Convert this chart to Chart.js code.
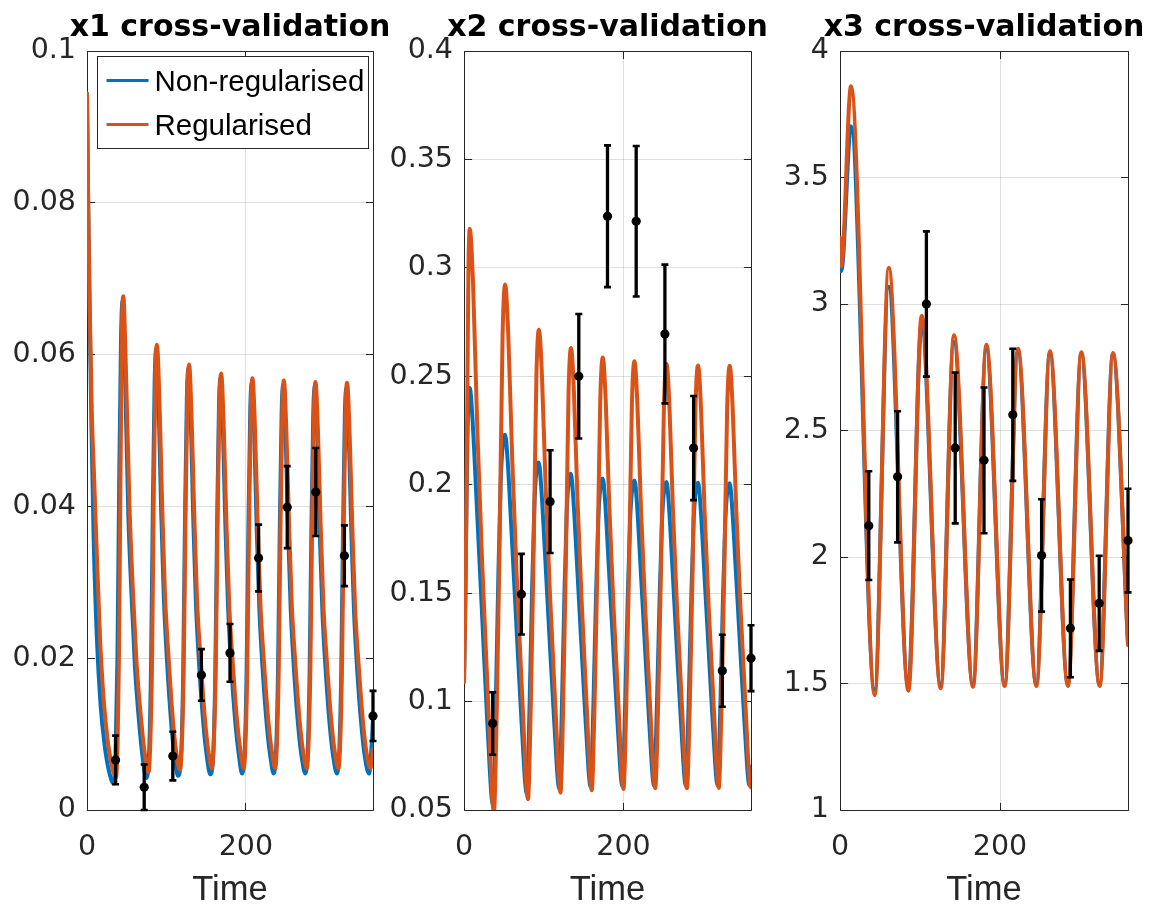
<!DOCTYPE html>
<html>
<head>
<meta charset="utf-8">
<title>Cross-validation</title>
<script src="https://cdn.jsdelivr.net/npm/chart.js@4"></script>
<style>
  html, body { margin: 0; padding: 0; background: #ffffff; }
  #wrap { position: relative; width: 1157px; height: 911px; overflow: hidden; background: #ffffff; }
  #wrap canvas { position: absolute; top: 0; }
</style>
</head>
<body>
<div id="wrap">
  <canvas id="panel1" width="400" height="911" style="left:0px"></canvas>
  <canvas id="panel2" width="400" height="911" style="left:378px"></canvas>
  <canvas id="panel3" width="402" height="911" style="left:755px"></canvas>
</div>
<script>
// ---- observation days and measured values with their error half-widths ----
const obsDays = [36, 72, 108, 144, 180, 216, 252, 288, 324, 360];

const x1Obs = [0.0066, 0.0030, 0.0071, 0.0178, 0.0207, 0.0332, 0.0399, 0.0419, 0.0335, 0.0124];
const x1Err = [0.0032, 0.0030, 0.0032, 0.0034, 0.0038, 0.0044, 0.0054, 0.0058, 0.0040, 0.0033];

const x2Obs = [0.0899, 0.1495, 0.1922, 0.2500, 0.3238, 0.3215, 0.2695, 0.2169, 0.1142, 0.1200];
const x2Err = [0.0144, 0.0186, 0.0237, 0.0287, 0.0327, 0.0347, 0.0320, 0.0240, 0.0166, 0.0152];

const x3Obs = [2.124, 2.317, 3.000, 2.431, 2.382, 2.562, 2.006, 1.718, 1.817, 2.065];
const x3Err = [0.215, 0.259, 0.287, 0.298, 0.288, 0.261, 0.222, 0.193, 0.188, 0.205];

// ---- model trajectories: time and value samples ----
const x1NonRegT = [0,1.5,3.2,5.5,8.4,12.5,17,22,27.5,33.5,
  36.1,38.3,40.5,42.9,44.9,47.5,52,56,60.3,66.5,70.8,74.6,
  78.4,80.6,82.8,85.2,87.2,90.2,93.4,96.7,100.7,106.2,110.7,114.5,
  118.9,121.1,123.3,125.7,127.7,130.7,133.9,137.2,141.2,146.7,151.2,155.1,
  159.3,161.5,163.7,166.1,168.1,171.1,174.3,177.6,181.6,187.1,191.6,195.2,
  198.7,200.9,203.1,205.5,207.5,210.5,213.7,217.0,221.0,226.5,231.0,235.0,
  238.2,240.4,242.6,245.0,247.0,250.0,253.2,256.5,260.5,266.0,270.5,274.8,
  278.0,280.2,282.4,284.8,286.8,289.8,293.0,296.3,300.3,305.8,310.3,314.6,
  317.8,320.0,322.2,324.6,326.6,329.6,332.8,336.1,340.1,345.6,350.1,355.0,358.2,360];
const x1NonRegV = [.0944,.0795,.0665,.0510,.0357,.0225,.0140,.0087,.0052,.0035,
  .0080,.0200,.0429,.0626,.0671,.0590,.0390,.0285,.0190,.0105,.0063,.0042,
  .0082,.0189,.0392,.0567,.0607,.0534,.0393,.0281,.0197,.0112,.0067,.0045,
  .0083,.0184,.0377,.0543,.0581,.0512,.0378,.0271,.0191,.0111,.0068,.0047,
  .0084,.0183,.0371,.0532,.0569,.0501,.0371,.0267,.0189,.0111,.0069,.0048,
  .0084,.0182,.0367,.0527,.0563,.0496,.0367,.0264,.0187,.0110,.0069,.0048,
  .0084,.0181,.0365,.0524,.0560,.0493,.0365,.0263,.0186,.0109,.0068,.0048,
  .0084,.0181,.0364,.0522,.0558,.0492,.0364,.0262,.0186,.0109,.0068,.0048,
  .0084,.0180,.0364,.0522,.0557,.0491,.0364,.0262,.0185,.0109,.0068,.0048,.0084,.0120];

const x1RegT = [0,1.5,3.3,6,8.7,11.7,16.5,21,26,31,36.5,
  38.5,40.3,42.1,44.0,45.7,48.5,53.5,57.5,62,68.5,73,77.5,
  79.7,81.9,83.9,86.1,88.0,91,94.5,98,102.5,108,112.5,117.0,
  119.5,121.8,124.0,126.4,128.5,131.5,135,138.5,143,148.5,153,157.2,
  159.7,162.1,164.35,166.7,168.9,171.9,175.4,178.9,183.4,188.9,193.4,197.2,
  199.6,201.8,204.0,206.35,208.3,211.3,214.8,218.3,222.8,228.3,232.8,236.9,
  239.2,241.4,243.55,245.9,247.8,250.8,254.3,257.8,262.3,267.8,272.3,276.7,
  279.0,281.2,283.35,285.7,287.6,290.6,294.1,297.6,302.1,307.6,312.1,316.5,
  318.8,321.0,323.15,325.5,327.4,330.4,333.9,337.4,341.9,347.4,351.9,357.0,360];
const x1RegV = [.0944,.0800,.0670,.0525,.0445,.0357,.0225,.0145,.0092,.0060,.0043,
  .0087,.0208,.0436,.0633,.0677,.0600,.0400,.0295,.0200,.0115,.0072,.0050,
  .0089,.0196,.0399,.0574,.0613,.0546,.0406,.0288,.0204,.0120,.0075,.0053,
  .0090,.0192,.0384,.0550,.0587,.0523,.0390,.0278,.0199,.0119,.0076,.0055,
  .0091,.0190,.0377,.0539,.0575,.0513,.0383,.0273,.0195,.0117,.0076,.0055,
  .0091,.0189,.0374,.0533,.0569,.0507,.0379,.0271,.0194,.0117,.0076,.0055,
  .0091,.0188,.0372,.0530,.0566,.0505,.0377,.0270,.0193,.0116,.0075,.0055,
  .0091,.0188,.0371,.0528,.0564,.0503,.0376,.0269,.0193,.0116,.0075,.0055,
  .0091,.0188,.0370,.0527,.0563,.0502,.0375,.0268,.0192,.0116,.0075,.0055,.0080];

const x2NonRegT = [0,1.7,3.2,4.6,5.8,7.2,
  10.5,16.0,22.1,29.2,36.3,
  39.96,43.1,46.0,48.5,51.6,
  54.7,59.85,65.5,72.2,78.8,
  82.4,85.45,88.3,90.7,93.8,
  96.7,101.6,106.9,113.3,119.5,
  123.0,126.0,128.75,131.1,134.1,
  136.9,141.6,146.7,152.8,158.8,
  162.46,165.6,168.5,171.0,174.1,
  176.9,181.5,186.6,192.7,198.6,
  202.3,205.45,208.35,210.9,214.0,
  216.8,221.4,226.5,232.5,238.4,
  242.16,245.4,248.35,250.9,254.1,
  256.85,261.4,266.4,272.4,278.2,
  281.9,285.1,288.0,290.5,293.7,
  296.5,301.1,306.2,312.2,318.1,
  321.74,324.85,327.7,330.2,333.3,
  336.1,340.8,345.9,352.0,358.0,360];
const x2NonRegV = [.109,.147,.193,.227,.2405,.2446,
  .2312,.1908,.1447,.0909,.0525,
  .1002,.1582,.2008,.2179,.2230,
  .2114,.1767,.1369,.0906,.0575,
  .1003,.1522,.1904,.2057,.2103,
  .1998,.1682,.1320,.0899,.0598,
  .1005,.1498,.1861,.2006,.2050,
  .1949,.1646,.1300,.0896,.0607,
  .1005,.1489,.1844,.1986,.2029,
  .1930,.1632,.1292,.0895,.0611,
  .1006,.1485,.1837,.1978,.2020,
  .1922,.1626,.1288,.0894,.0613,
  .1005,.1481,.1831,.1971,.2013,
  .1915,.1621,.1285,.0893,.0613,
  .1004,.1479,.1828,.1967,.2009,
  .1911,.1618,.1284,.0893,.0614,
  .1004,.1478,.1826,.1965,.2007,
  .1909,.1617,.1283,.0893,.0614,.0700];

const x2RegT = [0,1.9,3.6,5.5,7.2,
  11.5,16.6,22.7,30.2,37.5,
  41.2,44.55,48.35,51.6,
  55.6,60.5,66.2,73.3,80.2,
  83.8,87.1,90.8,94.0,
  97.8,102.4,107.8,114.5,121.0,
  124.45,127.6,131.15,134.2,
  137.9,142.3,147.5,153.9,160.2,
  163.8,167.15,170.9,174.1,
  177.75,182.15,187.35,193.8,200.0,
  203.6,206.9,210.6,213.8,
  217.5,221.9,227.1,233.5,239.8,
  243.55,246.95,250.8,254.1,
  257.7,262.0,267.1,273.45,279.6,
  283.25,286.6,290.35,293.6,
  297.25,301.65,306.85,313.3,319.5,
  323.1,326.4,330.1,333.3,
  337.0,341.45,346.7,353.2,359.5,360];
const x2RegV = [.109,.1508,.2135,.2971,.318,
  .2911,.2266,.1647,.1002,.0491,
  .0977,.1707,.2680,.2923,
  .2686,.2116,.1570,.1001,.0550,
  .0983,.1633,.2499,.2715,
  .2502,.1989,.1498,.0986,.0580,
  .0990,.1605,.2425,.2630,
  .2426,.1937,.1468,.0978,.0591,
  .0990,.1589,.2387,.2587,
  .2388,.1910,.1453,.0975,.0597,
  .0991,.1583,.2372,.2569,
  .2372,.1900,.1447,.0974,.0600,
  .0991,.1579,.2361,.2557,
  .2361,.1892,.1442,.0972,.0600,
  .0990,.1575,.2355,.2550,
  .2355,.1888,.1440,.0972,.0602,
  .0991,.1576,.2354,.2549,
  .2355,.1888,.1441,.0974,.0605,.0606];

const x3NonRegT = [0,1.6,13.75,43.2,60.7,85.3,101.9,125.7,142.3,166.1,182.8,205.7,222.3,245.3,262.3,284.8,301.5,324.4,341.1,360];
const x3NonRegV = [3.250,3.130,3.703,1.475,3.068,1.490,2.918,1.495,2.850,1.497,2.820,1.498,2.810,1.498,2.805,1.498,2.802,1.498,2.800,1.660];
const x3RegT = [0,1.6,13.75,43.4,60.9,85.5,102.1,125.9,142.5,166.3,183.0,205.9,222.5,245.5,262.5,285.0,301.7,324.6,341.3,360];
const x3RegV = [3.262,3.150,3.861,1.454,3.143,1.471,2.954,1.481,2.876,1.487,2.839,1.490,2.823,1.490,2.813,1.490,2.809,1.490,2.806,1.652];

// ---- axis ticks and labels ----
const timeTicks = [0, 200];
const timeTickLabels = ['0', '200'];
const x1Ticks = [0, 0.02, 0.04, 0.06, 0.08, 0.1];
const x1TickLabels = ['0', '0.02', '0.04', '0.06', '0.08', '0.1'];
const x2Ticks = [0.05, 0.1, 0.15, 0.2, 0.25, 0.3, 0.35, 0.4];
const x2TickLabels = ['0.05', '0.1', '0.15', '0.2', '0.25', '0.3', '0.35', '0.4'];
const x3Ticks = [1, 1.5, 2, 2.5, 3, 3.5, 4];
const x3TickLabels = ['1', '1.5', '2', '2.5', '3', '3.5', '4'];

const panelTitles = ['x1 cross-validation', 'x2 cross-validation', 'x3 cross-validation'];
const seriesNames = ['Non-regularised', 'Regularised'];
const timeLabel = 'Time';

// ---- styling ----
const BLUE = '#0072BD';
const ORANGE = '#D95319';
const AXIS_COLOR = '#262626';
const GRID_COLOR = 'rgba(38,38,38,0.15)';
const PLOT_TOP = 51;
const PLOT_BOTTOM = 810;
const CANVAS_H = 911;
const TICK_LEN = 7.6;

function pairs(ts, vs) {
  return ts.map((t, i) => ({ x: t, y: vs[i] }));
}

// Axes box with inward tick marks, drawn beneath the data
const axesBoxPlugin = {
  id: 'axesBox',
  beforeDatasetsDraw(chart) {
    const { ctx, chartArea: a, scales } = chart;
    const al = v => Math.floor(v) + 0.5;
    const L = al(a.left), R = al(a.right), T = al(a.top), B = al(a.bottom);
    ctx.save();
    ctx.strokeStyle = AXIS_COLOR;
    ctx.lineWidth = 1;
    ctx.beginPath();
    ctx.rect(L, T, R - L, B - T);
    scales.y.ticks.forEach(tk => {
      const y = al(scales.y.getPixelForValue(tk.value));
      ctx.moveTo(L, y); ctx.lineTo(L + TICK_LEN, y);
      ctx.moveTo(R, y); ctx.lineTo(R - TICK_LEN, y);
    });
    scales.x.ticks.forEach(tk => {
      const x = al(scales.x.getPixelForValue(tk.value));
      ctx.moveTo(x, B); ctx.lineTo(x, B - TICK_LEN);
      ctx.moveTo(x, T); ctx.lineTo(x, T + TICK_LEN);
    });
    ctx.stroke();
    ctx.restore();
  }
};

// Vertical error bars with caps, drawn just before the observation markers
const errorBarPlugin = {
  id: 'errorBars',
  beforeDatasetDraw(chart, args) {
    const ds = chart.data.datasets[args.index];
    if (!ds.errors) return;
    const { ctx, scales } = chart;
    ctx.save();
    ctx.strokeStyle = '#000000';
    ds.data.forEach((p, i) => {
      const px = scales.x.getPixelForValue(p.x);
      const top = scales.y.getPixelForValue(p.y + ds.errors[i]);
      const bot = scales.y.getPixelForValue(p.y - ds.errors[i]);
      ctx.lineWidth = 3.3;
      ctx.beginPath();
      ctx.moveTo(px, top); ctx.lineTo(px, bot);
      ctx.stroke();
      ctx.lineWidth = 2.6;
      ctx.beginPath();
      ctx.moveTo(px - 3.5, top); ctx.lineTo(px + 3.5, top);
      ctx.moveTo(px - 3.5, bot); ctx.lineTo(px + 3.5, bot);
      ctx.stroke();
    });
    ctx.restore();
  }
};

// Panel heading centred over the plotting area
const panelTitlePlugin = {
  id: 'panelTitle',
  afterDraw(chart, args, opts) {
    if (!opts.text) return;
    const { ctx, chartArea: a } = chart;
    ctx.save();
    ctx.font = 'bold 30px "DejaVu Sans"';
    ctx.fillStyle = '#000000';
    ctx.textAlign = 'center';
    ctx.textBaseline = 'alphabetic';
    ctx.fillText(opts.text, (a.left + a.right) / 2, 35.5);
    ctx.restore();
  }
};

// Boxed legend inside the top-left corner of the plotting area
const boxLegendPlugin = {
  id: 'boxLegend',
  afterDraw(chart, args, opts) {
    if (!opts.show) return;
    const { ctx, chartArea: a } = chart;
    const x0 = Math.floor(a.left) + 10.5, y0 = Math.floor(a.top) + 5.5;
    const w = 271, h = 92;
    ctx.save();
    ctx.fillStyle = '#ffffff';
    ctx.fillRect(x0, y0, w, h);
    ctx.strokeStyle = AXIS_COLOR;
    ctx.lineWidth = 1;
    ctx.strokeRect(x0, y0, w, h);
    ctx.font = '29.5px "Liberation Sans"';
    ctx.textAlign = 'left';
    ctx.textBaseline = 'middle';
    seriesNames.forEach((name, i) => {
      const ds = chart.data.datasets.find(d => d.label === name);
      const cy = y0 + 24 + i * 44;
      ctx.strokeStyle = ds.borderColor;
      ctx.lineWidth = 3.2;
      ctx.beginPath();
      ctx.moveTo(x0 + 9, cy); ctx.lineTo(x0 + 51, cy);
      ctx.stroke();
      ctx.fillStyle = '#000000';
      ctx.fillText(name, x0 + 57, cy + 2);
    });
    ctx.restore();
  }
};

function buildPanel(cfg) {
  const curveStyle = {
    type: 'line',
    showLine: true,
    pointRadius: 0,
    borderWidth: 4,
    fill: false,
    cubicInterpolationMode: 'monotone',
    borderJoinStyle: 'round',
    borderCapStyle: 'round'
  };
  const datasets = [
    {
      label: 'observations',
      type: 'line',
      data: pairs(obsDays, cfg.obs),
      errors: cfg.err,
      showLine: false,
      pointRadius: 4.6,
      pointBackgroundColor: '#000000',
      pointBorderColor: '#000000',
      pointBorderWidth: 0,
      clip: false,
      order: 0
    },
    Object.assign({}, curveStyle, {
      label: seriesNames[1],
      data: pairs(cfg.regT, cfg.regV),
      borderColor: ORANGE,
      order: 1
    }),
    Object.assign({}, curveStyle, {
      label: seriesNames[0],
      data: pairs(cfg.nonRegT, cfg.nonRegV),
      borderColor: BLUE,
      order: 2
    })
  ];

  return new Chart(document.getElementById(cfg.canvas), {
    type: 'line',
    data: { datasets },
    plugins: [axesBoxPlugin, errorBarPlugin, panelTitlePlugin, boxLegendPlugin],
    options: {
      responsive: false,
      animation: false,
      devicePixelRatio: 1,
      events: [],
      layout: { padding: { top: PLOT_TOP, right: cfg.padRight, bottom: 0, left: 0 } },
      plugins: {
        legend: { display: false },
        tooltip: { enabled: false },
        title: { display: false },
        panelTitle: { text: cfg.title },
        boxLegend: { show: !!cfg.legend }
      },
      scales: {
        x: {
          type: 'linear',
          min: 0,
          max: 360,
          afterBuildTicks: ax => { ax.ticks = timeTicks.map(v => ({ value: v })); },
          afterFit: ax => { ax.height = CANVAS_H - PLOT_BOTTOM; },
          grid: { color: GRID_COLOR, lineWidth: 1, drawTicks: false },
          border: { display: false },
          ticks: {
            callback: (v, i) => timeTickLabels[i],
            font: { family: 'DejaVu Sans', size: 28.5 },
            color: AXIS_COLOR,
            padding: 20,
            maxRotation: 0,
            autoSkip: false
          },
          title: {
            display: true,
            text: timeLabel,
            font: { family: 'Liberation Sans', size: 34.5 },
            color: AXIS_COLOR,
            padding: { top: 0, bottom: 0 }
          }
        },
        y: {
          type: 'linear',
          position: 'left',
          min: cfg.yMin,
          max: cfg.yMax,
          afterBuildTicks: ax => { ax.ticks = cfg.yTicks.map(v => ({ value: v })); },
          afterFit: ax => { ax.width = cfg.yAxisWidth; },
          grid: { color: GRID_COLOR, lineWidth: 1, drawTicks: false },
          border: { display: false },
          ticks: {
            callback: (v, i) => cfg.yTickLabels[i],
            font: { family: 'DejaVu Sans', size: 28.5 },
            color: AXIS_COLOR,
            padding: 11,
            autoSkip: false
          }
        }
      }
    }
  });
}

buildPanel({
  canvas: 'panel1', title: panelTitles[0], legend: true,
  yAxisWidth: 87, padRight: 27,
  yMin: 0, yMax: 0.1, yTicks: x1Ticks, yTickLabels: x1TickLabels,
  obs: x1Obs, err: x1Err,
  nonRegT: x1NonRegT, nonRegV: x1NonRegV, regT: x1RegT, regV: x1RegV
});
buildPanel({
  canvas: 'panel2', title: panelTitles[1], legend: false,
  yAxisWidth: 86, padRight: 27,
  yMin: 0.05, yMax: 0.4, yTicks: x2Ticks, yTickLabels: x2TickLabels,
  obs: x2Obs, err: x2Err,
  nonRegT: x2NonRegT, nonRegV: x2NonRegV, regT: x2RegT, regV: x2RegV
});
buildPanel({
  canvas: 'panel3', title: panelTitles[2], legend: false,
  yAxisWidth: 85, padRight: 29,
  yMin: 1, yMax: 4, yTicks: x3Ticks, yTickLabels: x3TickLabels,
  obs: x3Obs, err: x3Err,
  nonRegT: x3NonRegT, nonRegV: x3NonRegV, regT: x3RegT, regV: x3RegV
});
</script>
</body>
</html>
